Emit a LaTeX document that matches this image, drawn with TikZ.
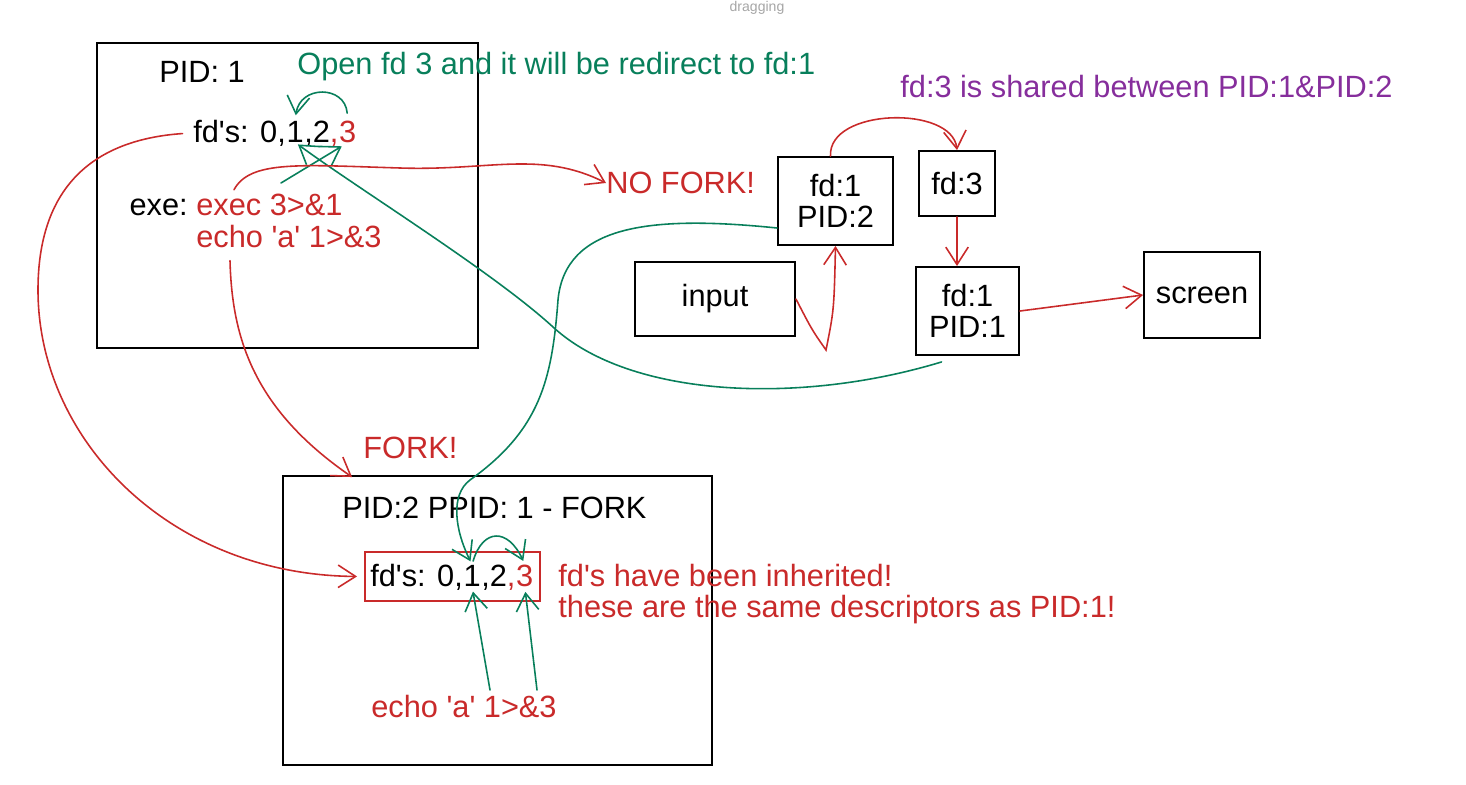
\documentclass[tikz,border=0pt]{standalone}
\usepackage{fontspec}
\setmainfont{Liberation Sans}
\usetikzlibrary{arrows.meta,calc}
\definecolor{redink}{HTML}{C92A2A}
\definecolor{greenink}{HTML}{087F5B}
\definecolor{purpleink}{HTML}{862E9C}
\begin{document}
\begin{tikzpicture}[x=0.02cm,y=-0.02cm,
		box/.style={draw=black,line width=1.1pt,inner sep=0pt,align=center,font=\fontsize{17.5}{18}\selectfont},
		txt/.style={inner sep=0pt,font=\fontsize{17.5}{18}\selectfont},
		redarrow/.style={draw=redink,line width=0.9pt,line cap=round,-{Straight Barb[length=3.5mm,width=4.5mm]}},
		greenarrow/.style={draw=greenink,line width=0.9pt,line cap=round,-{Straight Barb[length=3.5mm,width=4.5mm]}}]
		\useasboundingbox (0,0) rectangle (1466,784);
		\node[font=\fontsize{8}{9}\selectfont,text=gray!70] (dragnote) at (757,8) {dragging};
		% process PID 1
		\node[box,minimum width=7.62cm,minimum height=6.1cm] (pidone) at (287.5,195.5) {};
		\node[txt] (pidA) at (202,72) {PID: 1};
		\node[txt,anchor=west,text=greenink] (opennote) at (297,67) {Open fd 3 and it will be redirect to fd:1};
		\node[txt,anchor=base west] (fdsA) at (193,142) {fd\textquotesingle s: 0,};
		\node[txt,anchor=base west] (oneA) at (fdsA.base east) {1};
		\node[txt,anchor=base west] (twoA) at (oneA.base east) {,2\textcolor{redink}{,}};
		\node[txt,anchor=base west,text=redink] (threeA) at (twoA.base east) {3};
		\node[txt,anchor=east] (exeA) at (188,207) {exe:};
		\node[txt,anchor=west,text=redink] (execA) at (196,205) {exec 3>\&1};
		\node[txt,anchor=west,text=redink] (echoA) at (196,237) {echo \textquotesingle a\textquotesingle{} 1>\&3};
		\node[txt,anchor=west,text=redink] (nofork) at (606,183) {NO FORK!};
		\node[txt,anchor=west,text=redink] (forklabel) at (363,448) {FORK!};
		% process PID 2
		\node[box,minimum width=8.58cm,minimum height=5.78cm] (pidtwo) at (497.5,620.5) {};
		\node[txt,anchor=west] (pidB) at (342,508) {PID:2 PPID: 1 - FORK};
		\node[box,draw=redink,minimum width=3.5cm,minimum height=0.98cm] (fdboxB) at (452.5,576.5) {};
		\node[txt,anchor=base west] (fdsB) at (370,586) {fd\textquotesingle s: 0,};
		\node[txt,anchor=base west] (oneB) at (fdsB.base east) {1};
		\node[txt,anchor=base west] (twoB) at (oneB.base east) {,2\textcolor{redink}{,}};
		\node[txt,anchor=base west,text=redink] (threeB) at (twoB.base east) {3};
		\node[txt,anchor=west,text=redink,align=left] (inherit) at (558,594) {fd\textquotesingle s have been inherited!\\these are the same descriptors as PID:1!};
		\node[txt,anchor=west,text=redink] (echoB) at (371,707) {echo \textquotesingle a\textquotesingle{} 1>\&3};
		% file table
		\node[txt,anchor=west,text=purpleink] (sharednote) at (900,87) {fd:3 is shared between PID:1\&PID:2};
		\node[box,minimum width=2.3cm,minimum height=1.76cm] (fdonetwo) at (835.5,201) {fd:1\\PID:2};
		\node[box,minimum width=1.52cm,minimum height=1.3cm] (fdthree) at (957,183.5) {fd:3};
		\node[box,minimum width=2.06cm,minimum height=1.76cm] (fdoneone) at (967.5,311) {fd:1\\PID:1};
		\node[box,minimum width=3.2cm,minimum height=1.48cm] (input) at (715,299) {input};
		\node[box,minimum width=2.32cm,minimum height=1.72cm] (screen) at (1202,295) {screen};
		\coordinate (execgreen) at (281,183);
		\coordinate (echoBone) at (490,690);
		\coordinate (echoBthree) at (537,690);
		% arrows in PID 1
		\draw[greenarrow,shorten <=4pt,shorten >=3pt] (threeA.north) .. controls (345,85) and (300,85) .. (oneA.north);
		\draw[greenarrow,shorten >=4pt] (execgreen) -- (threeA.south);
		\draw[greenarrow,shorten >=2pt] ($(fdoneone.south)+(-26,6)$) .. controls (800,405) and (630,398) .. (553,327) .. controls (493,272) and (360,190) .. (oneA.south);
		\draw[redarrow] ($(execA.north west)+(38,-4)$) .. controls (250,160) and (300,165) .. (400,168) .. controls (490,171) and (540,150) .. (nofork.west);
		\draw[redarrow,shorten <=6pt,shorten >=4pt] (fdsA.west) .. controls (90,140) and (38,190) .. (38,290) .. controls (38,440) and (170,575) .. (fdboxB.west);
		\draw[redarrow] ($(echoA.south west)+(34,12)$) .. controls (232,340) and (255,410) .. ($(pidtwo.north west)+(70,2)$);
		% arrows in PID 2
		\draw[greenarrow,shorten >=2pt] ($(fdonetwo.west)+(0,27)$) .. controls (650,215) and (565,225) .. (558,300) .. controls (552,380) and (540,430) .. (470,480) .. controls (450,495) and (455,530) .. (oneB.north);
		\draw[greenarrow,shorten <=2pt,shorten >=2pt] (oneB.north) .. controls (483,528) and (508,528) .. (threeB.north);
		\draw[greenarrow,shorten >=3pt] (echoBone) -- (oneB.south);
		\draw[greenarrow,shorten >=3pt] (echoBthree) -- (threeB.south);
		% file table arrows
		\draw[redarrow] ([xshift=-0.1cm]fdonetwo.north) .. controls (828,108) and (952,105) .. (fdthree.north);
		\draw[redarrow] (fdthree.south) -- (fdthree.south |- fdoneone.north);
		\draw[redarrow] (fdoneone.east) -- (screen.west);
		\draw[redarrow] (input.east) .. controls (812,330) .. (826,350) .. controls (834,310) .. (fdonetwo.south);
	\end{tikzpicture}
\end{document}
